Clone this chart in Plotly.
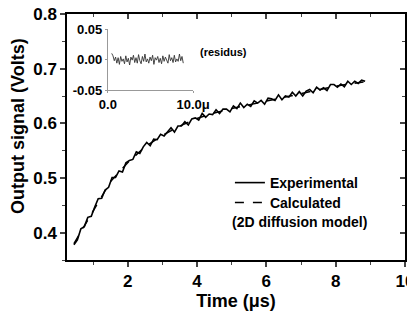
import plotly.graph_objects as go

# ---- data ----
time_exp = [0.45, 0.55, 0.65, 0.75, 0.85, 0.95, 1.05, 1.15, 1.25, 1.35, 1.45, 1.55, 1.65, 1.75, 1.85,
            1.95, 2.05, 2.15, 2.25, 2.35, 2.45, 2.55, 2.65, 2.75, 2.85, 2.95, 3.05, 3.15, 3.25, 3.35,
            3.45, 3.55, 3.65, 3.75, 3.85, 3.95, 4.05, 4.15, 4.25, 4.35, 4.45, 4.55, 4.65, 4.75, 4.85,
            4.95, 5.05, 5.15, 5.25, 5.35, 5.45, 5.55, 5.65, 5.75, 5.85, 5.95, 6.05, 6.15, 6.25, 6.35,
            6.45, 6.55, 6.65, 6.75, 6.85, 6.95, 7.05, 7.15, 7.25, 7.35, 7.45, 7.55, 7.65, 7.75, 7.85,
            7.95, 8.05, 8.15, 8.25, 8.35, 8.45, 8.55, 8.65, 8.75, 8.85]
signal_exp = [0.378, 0.387, 0.407, 0.411, 0.428, 0.430, 0.447, 0.462, 0.463, 0.478, 0.483, 0.501, 0.501, 0.513, 0.511,
              0.528, 0.532, 0.534, 0.548, 0.545, 0.557, 0.565, 0.559, 0.571, 0.570, 0.580, 0.577, 0.584, 0.592, 0.584,
              0.595, 0.595, 0.603, 0.597, 0.608, 0.610, 0.606, 0.618, 0.611, 0.617, 0.616, 0.625, 0.618, 0.626, 0.626,
              0.621, 0.632, 0.627, 0.637, 0.629, 0.635, 0.631, 0.641, 0.637, 0.642, 0.635, 0.646, 0.645, 0.642, 0.652,
              0.643, 0.650, 0.648, 0.657, 0.650, 0.658, 0.650, 0.659, 0.662, 0.656, 0.666, 0.661, 0.665, 0.660, 0.671,
              0.671, 0.666, 0.672, 0.667, 0.677, 0.671, 0.677, 0.673, 0.679, 0.677]

time_calc = [0.45, 1.0, 1.5, 2.0, 2.5, 3.0, 3.5, 4.0, 4.5, 5.0, 5.5, 6.0, 6.5, 7.0, 7.5, 8.0, 8.5, 8.85]
signal_calc = [0.380, 0.440, 0.493, 0.528, 0.557, 0.578, 0.595, 0.609, 0.619, 0.627, 0.634, 0.641, 0.648,
               0.655, 0.662, 0.668, 0.673, 0.676]

time_res = [0.45, 0.60, 0.75, 0.90, 1.05, 1.20, 1.35, 1.50, 1.65, 1.80, 1.95, 2.10, 2.25, 2.40, 2.55,
            2.70, 2.85, 3.00, 3.15, 3.30, 3.45, 3.60, 3.75, 3.90, 4.05, 4.20, 4.35, 4.50, 4.65, 4.80,
            4.95, 5.10, 5.25, 5.40, 5.55, 5.70, 5.85, 6.00, 6.15, 6.30, 6.45, 6.60, 6.75, 6.90, 7.05,
            7.20, 7.35, 7.50, 7.65, 7.80, 7.95, 8.10, 8.25, 8.40, 8.55, 8.70, 8.85]
residus = [0.010, 0.006, -0.002, 0.004, -0.006, 0.003, -0.008, 0.005, -0.003, 0.001, -0.007, 0.006, -0.004, 0.002, -0.009,
           0.004, -0.001, 0.007, -0.005, 0.003, -0.006, 0.008, -0.002, -0.007, 0.005, -0.003, 0.009, -0.004, 0.001, -0.006,
           0.004, -0.002, 0.007, -0.008, 0.003, -0.001, 0.005, -0.005, 0.002, -0.007, 0.006, -0.003, 0.004, -0.001, -0.006,
           0.008, -0.002, 0.003, -0.005, 0.007, -0.004, 0.001, -0.003, 0.009, -0.002, 0.005, -0.006]

x_ticks = [2, 4, 6, 8, 10]
x_minor = [1, 3, 5, 7, 9]
y_ticks = [0.4, 0.5, 0.6, 0.7, 0.8]
y_minor = [0.35, 0.45, 0.55, 0.65, 0.75]
inset_x_ticks = [0, 10]
inset_x_labels = ["0.0", "10.0\u03bc"]
inset_y_ticks = [-0.05, 0.0, 0.05]
inset_y_labels = ["-0.05", "0.00", "0.05"]

FONT = "Liberation Sans"
X_RANGE = [0.25, 10]
Y_RANGE = [0.35, 0.8]

fig = go.Figure()
fig.add_trace(go.Scatter(x=time_calc, y=signal_calc, mode="lines", name="Calculated", legend="legend2",
                         line=dict(color="black", width=1.5, dash="dash")))
fig.add_trace(go.Scatter(x=time_exp, y=signal_exp, mode="lines", name="Experimental", legend="legend",
                         line=dict(color="black", width=1.6)))
fig.add_trace(go.Scatter(x=time_res, y=residus, mode="lines", showlegend=False,
                         line=dict(color="#333333", width=0.9), xaxis="x2", yaxis="y2"))
# empty trace to activate the mirrored top/right axes (inside ticks)
fig.add_trace(go.Scatter(x=[], y=[], mode="lines", showlegend=False, xaxis="x3", yaxis="y3", hoverinfo="skip"))

tick_font = dict(size=17, family=FONT, weight="bold")

# page body has an 8px default margin: the figure is shrunk by 8px so the plot area lands where the reference has it
fig.update_layout(
    width=407, height=306,
    margin=dict(l=59, r=10, t=6, b=54),
    paper_bgcolor="white", plot_bgcolor="white",
    font=dict(family=FONT, color="black", weight="bold"),
    showlegend=True,
    legend=dict(x=0.482, y=0.313, xanchor="left", yanchor="middle",
                bgcolor="rgba(0,0,0,0)", font=dict(size=14, family=FONT, weight="bold")),
    legend2=dict(x=0.482, y=0.232, xanchor="left", yanchor="middle",
                 bgcolor="rgba(0,0,0,0)", font=dict(size=14, family=FONT, weight="bold")),
    xaxis=dict(range=X_RANGE, tickvals=x_ticks, ticks="outside", ticklen=5, tickwidth=1.5, automargin=False,
               ticklabeloverflow="allow",
               showline=True, linewidth=1.5, linecolor="black", mirror=True, showgrid=False, zeroline=False,
               tickfont=tick_font,
               minor=dict(tickvals=x_minor, ticks="outside", ticklen=3, tickwidth=1.2),
               title=dict(text="Time (\u03bcs)", font=dict(size=18, family=FONT, weight="bold"), standoff=2)),
    yaxis=dict(range=Y_RANGE, tickvals=y_ticks, tickformat=".1f", ticks="outside", ticklen=5, tickwidth=1.5,
               automargin=False, ticklabeloverflow="allow",
               showline=True, linewidth=1.5, linecolor="black", mirror=True, showgrid=False, zeroline=False,
               tickfont=tick_font,
               minor=dict(tickvals=y_minor, ticks="outside", ticklen=3, tickwidth=1.2)),
    xaxis3=dict(range=X_RANGE, overlaying="x", side="top", anchor="y3", tickvals=x_ticks, ticks="inside",
                ticklen=5, tickwidth=1.5, showticklabels=False, showgrid=False, zeroline=False, showline=False,
                automargin=False,
                minor=dict(tickvals=x_minor, ticks="inside", ticklen=3, tickwidth=1.2)),
    yaxis3=dict(range=Y_RANGE, overlaying="y", side="right", anchor="x3", tickvals=y_ticks, ticks="inside",
                ticklen=5, tickwidth=1.5, showticklabels=False, showgrid=False, zeroline=False, showline=False,
                automargin=False,
                minor=dict(tickvals=y_minor, ticks="inside", ticklen=3, tickwidth=1.2)),
    xaxis2=dict(domain=[0.121, 0.373], anchor="y2", range=[0, 10], tickvals=inset_x_ticks, ticktext=inset_x_labels,
                ticks="outside", ticklen=2, tickcolor="#999999", showline=True, linewidth=1, linecolor="#999999",
                showgrid=False, zeroline=False, automargin=False, ticklabeloverflow="allow",
                tickfont=dict(size=13, family=FONT, weight="bold")),
    yaxis2=dict(domain=[0.691, 0.939], anchor="x2", range=[-0.05, 0.05], tickvals=inset_y_ticks,
                ticktext=inset_y_labels, ticks="outside", ticklen=2, tickcolor="#999999", showline=True,
                linewidth=1, linecolor="#999999", showgrid=False, zeroline=False, automargin=False,
                ticklabeloverflow="allow",
                tickfont=dict(size=13, family=FONT, weight="bold")),
    annotations=[
        dict(text="Output signal (Volts)", x=-0.145, y=0.545, xref="paper", yref="paper", xanchor="center",
             yanchor="middle", textangle=-90, showarrow=False, borderpad=0,
             font=dict(size=18, family=FONT, weight="bold")),
        dict(text="(residus)", x=0.388, y=0.846, xref="paper", yref="paper", xanchor="left", yanchor="middle",
             showarrow=False, font=dict(size=11, family=FONT, weight="bold")),
        dict(text="(2D diffusion model)", x=0.482, y=0.154, xref="paper", yref="paper", xanchor="left",
             yanchor="middle", showarrow=False, font=dict(size=14, family=FONT, weight="bold")),
    ],
)

fig.write_html("out.html")
